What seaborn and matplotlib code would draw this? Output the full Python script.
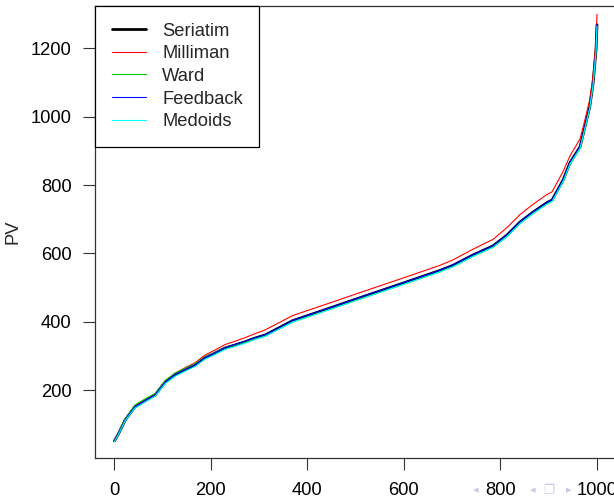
import numpy as np
import pandas as pd
import matplotlib
matplotlib.use("Agg")
import matplotlib.pyplot as plt
import seaborn as sns

# scenario rank (sorted PVs) and PV values
rank = [1, 10, 23, 43, 64, 85, 106, 126, 147, 168, 188, 209, 230, 251, 271, 292,
        313, 370, 441, 509, 578, 634, 675, 702, 743, 785, 814, 841, 868, 896,
        907, 930, 944, 965, 975, 985, 992, 998, 1000]

seriatim = [51, 74, 112, 150, 168, 185, 223, 244, 259, 273, 294, 308, 323, 332, 341, 352,
            361, 403, 437, 470, 503, 530, 550, 565, 595, 622, 654, 692, 721, 748,
            756, 815, 865, 912, 970, 1029, 1099, 1196, 1269]
milliman = [51, 76, 115, 153, 171, 188, 227, 249, 265, 280, 302, 317, 333, 343, 353, 365,
            376, 418, 452, 485, 518, 545, 565, 581, 612, 641, 676, 714, 744, 772,
            780, 840, 885, 935, 990, 1050, 1120, 1220, 1300]
ward = [52, 76, 116, 156, 174, 190, 228, 249, 263, 277, 297, 310, 324, 332, 340, 350,
        358, 399, 433, 466, 499, 526, 546, 561, 591, 618, 649, 688, 717, 744,
        752, 810, 860, 907, 965, 1024, 1094, 1190, 1265]
feedback = [51, 75, 113, 151, 169, 186, 224, 245, 260, 274, 295, 309, 324, 333, 342, 353,
            362, 404, 438, 471, 504, 531, 551, 566, 596, 623, 655, 693, 722, 749,
            757, 816, 866, 913, 971, 1030, 1100, 1197, 1270]
medoids = [49, 72, 110, 147, 165, 182, 219, 240, 255, 269, 290, 304, 319, 328, 337, 348,
           357, 399, 433, 466, 499, 526, 546, 561, 591, 618, 650, 688, 717, 744,
           752, 811, 861, 908, 966, 1025, 1095, 1192, 1265]

methods = ["Seriatim", "Milliman", "Ward", "Feedback", "Medoids"]
colors = ["black", "#ff0000", "#00cd00", "#0000ff", "#00ffff"]
widths = [2.0, 0.8, 0.8, 0.8, 0.8]

xticks = [0, 200, 400, 600, 800, 1000]
yticks = [200, 400, 600, 800, 1000, 1200]

df = pd.DataFrame({"rank": rank, "Seriatim": seriatim, "Milliman": milliman,
                   "Ward": ward, "Feedback": feedback, "Medoids": medoids})

sns.set_style("ticks")
plt.rcParams['font.family'] = ['Liberation Sans', 'DejaVu Sans']

fig = plt.figure(figsize=(6.14, 5.01), dpi=100)
ax = fig.add_axes([95.2 / 614, 43 / 501, 521.1 / 614, 452 / 501])

for m, c, w in zip(methods, colors, widths):
    sns.lineplot(data=df, x="rank", y=m, ax=ax, color=c, lw=w, label=m)

ax.set_xlim(-39, 1040)
ax.set_ylim(1, 1324)
ax.set_xticks(xticks)
ax.set_yticks(yticks)
ax.set_xlabel("")
ax.set_ylabel("")
ax.tick_params(axis="both", direction="out", length=8.6, width=0.8, color="#333333",
               labelsize=13.2, pad=8.5, labelcolor="black")
for s in ax.spines.values():
    s.set_visible(True)
    s.set_color("#333333")
    s.set_linewidth(0.9)

fig.text(13 / 614, 1 - 232 / 501, "PV", rotation=90, ha="center", va="center", fontsize=13.2)

leg = ax.legend(loc="upper left", bbox_to_anchor=(0, 1.0), borderaxespad=0.0,
                fontsize=13.2, frameon=True, fancybox=False, handlelength=1.85,
                handletextpad=0.9, labelspacing=0.31, borderpad=0.9)
leg.get_frame().set_edgecolor("black")
leg.get_frame().set_linewidth(0.9)
leg.get_frame().set_alpha(1)

# beamer navigation symbols near the bottom right
nav = "#c8c8e6"
fig.text(476 / 614, 1 - 490 / 501, "\u25c2", color=nav, fontsize=8, ha="center", va="center")
fig.text(533 / 614, 1 - 490 / 501, "\u25c2", color=nav, fontsize=8, ha="center", va="center")
fig.text(549 / 614, 1 - 490 / 501, "\u2750", color=nav, fontsize=9, ha="center", va="center",
         family=["DejaVu Sans", "Noto Sans CJK SC"])
fig.text(569 / 614, 1 - 490 / 501, "\u25b8", color=nav, fontsize=8, ha="center", va="center")

fig.savefig("out.png", dpi=100)
